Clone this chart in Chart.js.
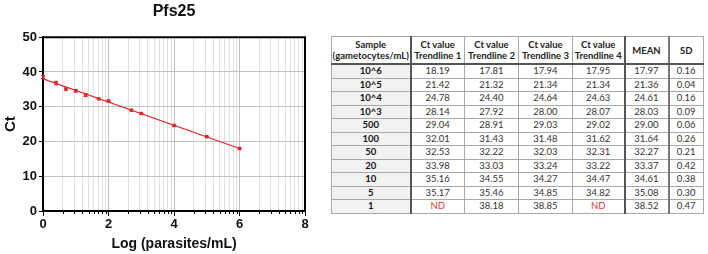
<!DOCTYPE html>
<html><head><meta charset="utf-8">
<script src="https://cdn.jsdelivr.net/npm/chart.js@4.4.0/dist/chart.umd.min.js"></script>
<style>
html,body{margin:0;padding:0;background:#fff;width:708px;height:254px;overflow:hidden}
#wrap{position:absolute;left:0;top:0;width:320px;height:254px}
#tbl{position:absolute;left:331px;top:36px;border-collapse:collapse;table-layout:fixed;font-family:Lato,'Liberation Sans',sans-serif;font-size:9.5px;color:#333;border:1.5px solid #555}
#tbl td,#tbl th{border:1px solid #a8a8a8;text-align:center;padding:0;overflow:hidden;white-space:nowrap}
#tbl th{font-weight:bold;color:#222;height:26px;line-height:11px;border-bottom:2px solid #555}
#tbl td{height:12.5px;line-height:12px}
#tbl td.s{background:#f2f2f2;font-weight:bold;color:#111;border-right:2px solid #555}
#tbl th.s{border-right:2px solid #555}
#tbl .m{border-left:2px solid #555}
#tbl .d{border-left:2px solid #777}
#tbl .nd{color:#e03535}
</style></head>
<body>
<div id="wrap"><canvas id="c" width="320" height="254"></canvas></div>
<table id="tbl">
<colgroup><col style="width:79px"><col style="width:54px"><col style="width:54px"><col style="width:54px"><col style="width:52px"><col style="width:44px"><col style="width:35px"></colgroup>
<thead id="th"></thead><tbody id="tb"></tbody>
</table>
<script>
// ---- chart data ----
const xLog   = [0, 0.4, 0.7, 1, 1.3, 1.7, 2, 2.7, 3, 4, 5, 6];
const ctMean = [38.52, 36.8, 35.08, 34.61, 33.37, 32.27, 31.64, 29.00, 28.03, 24.61, 21.36, 17.97];
const ctSD   = [0.47, 0.5, 0.30, 0.38, 0.42, 0.21, 0.26, 0.06, 0.09, 0.16, 0.04, 0.16];
const trendX = [0, 6];
const trendY = [38.0, 17.97];
const xMajorTicks = [0, 2, 4, 6, 8];
const yTickValues = [0, 10, 20, 30, 40, 50];

// ---- table data ----
const headers = [['Sample','(gametocytes/mL)'],['Ct value','Trendline 1'],['Ct value','Trendline 2'],['Ct value','Trendline 3'],['Ct value','Trendline 4'],['MEAN'],['SD']];
const sampleLabels = ['10^6','10^5','10^4','10^3','500','100','50','20','10','5','1'];
const trend1 = ['18.19','21.42','24.78','28.14','29.04','32.01','32.53','33.98','35.16','35.17','ND'];
const trend2 = ['17.81','21.32','24.40','27.92','28.91','31.43','32.22','33.03','34.55','35.46','38.18'];
const trend3 = ['17.94','21.34','24.64','28.00','29.03','31.48','32.03','33.24','34.27','34.85','38.85'];
const trend4 = ['17.95','21.34','24.63','28.07','29.02','31.62','32.31','33.22','34.47','34.82','ND'];
const meanCol = ['17.97','21.36','24.61','28.03','29.00','31.64','32.27','33.37','34.61','35.08','38.52'];
const sdCol   = ['0.16','0.04','0.16','0.09','0.06','0.26','0.21','0.42','0.38','0.30','0.47'];

// build table
(function(){
  const cls = ['s','','','','','m','d'];
  let h = '<tr>';
  headers.forEach((hd,i)=>{ h += '<th class="'+cls[i]+'">'+hd.join('<br>')+'</th>'; });
  document.getElementById('th').innerHTML = h + '</tr>';
  let b = '';
  sampleLabels.forEach((s,r)=>{
    const row=[s,trend1[r],trend2[r],trend3[r],trend4[r],meanCol[r],sdCol[r]];
    b += '<tr>';
    row.forEach((v,i)=>{ b += '<td class="'+cls[i]+(v==='ND'?' nd':'')+'">'+v+'</td>'; });
    b += '</tr>';
  });
  document.getElementById('tb').innerHTML = b;
})();

const RED = '#e3262d';
const FONT = "'Liberation Sans', Arial, sans-serif";

const framePlugin = {
  id:'frame',
  afterDraw(chart){
    const {ctx, chartArea:a, scales} = chart;
    ctx.save();
    ctx.strokeStyle='#000'; ctx.lineWidth=2;
    ctx.beginPath();
    ctx.moveTo(a.left, a.top); ctx.lineTo(a.right, a.top); ctx.lineTo(a.right, a.bottom);
    ctx.stroke();
    // minor x ticks
    const xs = scales.x;
    ctx.lineWidth=1;
    xs.ticks.forEach(t=>{
      if (Number.isInteger(t.value)) return;
      const px = Math.round(xs.getPixelForValue(t.value))+0.5;
      ctx.beginPath(); ctx.moveTo(px, a.bottom); ctx.lineTo(px, a.bottom+3); ctx.stroke();
    });
    ctx.restore();
  },
  afterDatasetsDraw(chart){
    const {ctx, scales:{x,y}} = chart;
    ctx.save(); ctx.strokeStyle=RED; ctx.lineWidth=1;
    xLog.forEach((xv,i)=>{
      const px = x.getPixelForValue(xv);
      const t = y.getPixelForValue(ctMean[i]+ctSD[i]);
      const b = y.getPixelForValue(ctMean[i]-ctSD[i]);
      ctx.beginPath();
      ctx.moveTo(px,t); ctx.lineTo(px,b);
      ctx.moveTo(px-2,t); ctx.lineTo(px+2,t);
      ctx.moveTo(px-2,b); ctx.lineTo(px+2,b);
      ctx.stroke();
    });
    ctx.restore();
  }
};

new Chart(document.getElementById('c'), {
  type:'scatter',
  data:{
    datasets:[
      {label:'Pfs25', data:xLog.map((v,i)=>({x:v,y:ctMean[i]})), backgroundColor:RED, borderColor:RED, pointStyle:'rect', pointRadius:2.4, pointBorderWidth:0},
      {type:'line', label:'fit', data:trendX.map((v,i)=>({x:v,y:trendY[i]})), borderColor:RED, borderWidth:1.2, pointRadius:0, fill:false}
    ]
  },
  options:{
    responsive:false, animation:false,
    layout:{padding:{left:0,right:15,top:0,bottom:0}},
    plugins:{
      legend:{display:false}, tooltip:{enabled:false},
      title:{display:true, text:'Pfs25', fullSize:false, color:'#111', font:{family:FONT, size:16, weight:'bold'}, padding:{top:2,bottom:16}}
    },
    scales:{
      x:{type:'linear', min:0, max:8,
        afterBuildTicks:s=>{
          const t=[];
          for(let n=0;n<4;n++){ t.push({value:xMajorTicks[n]}); for(let k=2;k<=9;k++) t.push({value:xMajorTicks[n]+2*Math.log10(k)}); }
          t.push({value:xMajorTicks[4]});
          s.ticks=t;
        },
        afterFit:s=>{s.height=43;},
        ticks:{autoSkip:false, maxRotation:0, color:'#111', padding:1, font:{family:FONT,size:13,weight:'bold'},
          callback:v=> xMajorTicks.includes(v) ? String(v) : ''},
        grid:{color:c=> (c.tick && Number.isInteger(c.tick.value)) ? '#c2c2c2' : '#e0e0e0', lineWidth:1,
          tickLength:5, tickColor:c=> (c.tick && Number.isInteger(c.tick.value)) ? '#000' : 'rgba(0,0,0,0)'},
        border:{color:'#000', width:2},
        title:{display:true, text:'Log (parasites/mL)', color:'#111', font:{family:FONT,size:14,weight:'bold'}, padding:{top:0,bottom:1}}
      },
      y:{min:0, max:50,
        afterBuildTicks:s=>{ s.ticks = yTickValues.map(v=>({value:v})); },
        afterFit:s=>{s.width=43;},
        ticks:{color:'#111', padding:2, font:{family:FONT,size:13,weight:'bold'}},
        grid:{color:'#c2c2c2', tickLength:4, tickColor:'#000'},
        border:{color:'#000', width:2},
        title:{display:true, text:'Ct', color:'#111', font:{family:FONT,size:15,weight:'bold'}, padding:{top:2,bottom:0}}
      }
    }
  },
  plugins:[framePlugin]
});
</script>
</body></html>
